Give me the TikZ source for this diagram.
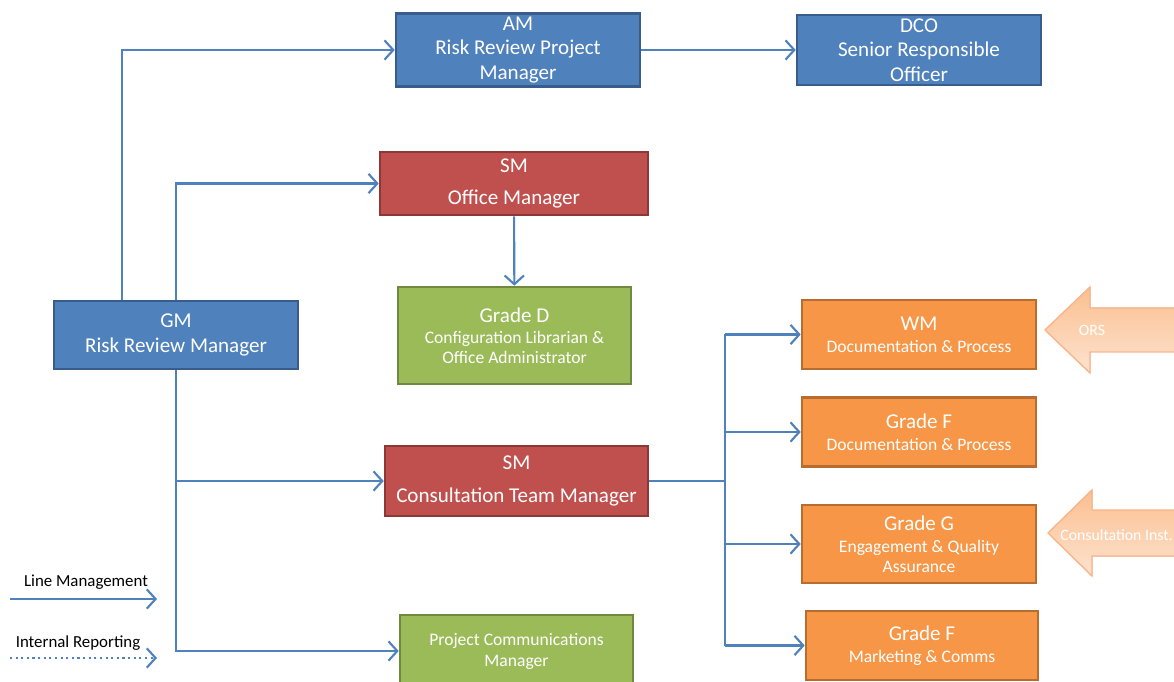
\documentclass[tikz,border=0pt]{standalone}
\usepackage{fontspec}
\setmainfont{Carlito}
\usepackage{tikz}
\usetikzlibrary{arrows.meta}
\definecolor{boxblue}{HTML}{4F81BD}
\definecolor{boxblueline}{HTML}{385D8A}
\definecolor{boxred}{HTML}{C0504D}
\definecolor{boxredline}{HTML}{8C3836}
\definecolor{boxgreen}{HTML}{9BBB59}
\definecolor{boxgreenline}{HTML}{71893F}
\definecolor{boxorange}{HTML}{F79646}
\definecolor{boxorangeline}{HTML}{B66D31}
\definecolor{linkblue}{HTML}{4F81BD}
\definecolor{inputtop}{HTML}{FBBF90}
\definecolor{inputbottom}{HTML}{FDE3CF}
\definecolor{inputline}{HTML}{F9B58A}
\newcommand\subtext{\fontsize{10}{12}\selectfont}

\begin{document}
\begin{tikzpicture}[x=0.02cm, y=-0.02cm, font=\fontsize{12}{14.5}\selectfont,
    box/.style={draw, rectangle, line width=1.5pt, text=white, align=center, inner sep=2pt},
    bluebox/.style={box, fill=boxblue, draw=boxblueline, minimum width=4.88cm, minimum height=1.4cm},
    redbox/.style={box, fill=boxred, draw=boxredline},
    greenbox/.style={box, fill=boxgreen, draw=boxgreenline},
    orangebox/.style={box, fill=boxorange, draw=boxorangeline, minimum width=4.68cm, minimum height=1.38cm},
    link/.style={-{Straight Barb[length=5pt,width=11pt]}, draw=linkblue, line width=1.2pt},
    input/.style={draw=inputline, line width=0.8pt, top color=inputtop, bottom color=inputbottom},
    inputtext/.style={text=white, font=\fontsize{9}{11}\selectfont, inner sep=0pt}]
    \useasboundingbox (0,0) rectangle (1174,682);
    \clip (0,0) rectangle (1174,682);

    % top row
    \node[bluebox] (am) at (518,50) {AM\\[-0.5pt]Risk Review Project\\[-0.5pt]Manager};
    \node[bluebox] (dco) at (919,50) {DCO\\[-0.5pt]Senior Responsible\\[-0.5pt]Officer};

    % middle column
    \node[redbox, minimum width=5.36cm, minimum height=1.26cm] (office) at (514,183.5) {SM\\[4pt]Office Manager};
    \node[greenbox, minimum width=4.66cm, minimum height=1.94cm] (gradeD) at (514.5,335.5) {Grade D\\[-2.5pt]{\subtext Configuration Librarian \&}\\[-3pt]{\subtext Office Administrator}};
    \node[redbox, minimum width=5.26cm, minimum height=1.4cm] (cons) at (516.5,481) {SM\\[4.5pt]Consultation Team Manager};
    \node[greenbox, font=\subtext, minimum width=4.66cm, minimum height=1.44cm] (comms) at (516.5,651) {Project Communications\\Manager};

    % left
    \node[bluebox, minimum height=1.36cm] (gm) at (176,335) {GM\\Risk Review Manager};

    % consultation team
    \node[orangebox] (wm) at (919,334.5) {WM\\[-2pt]\subtext Documentation \& Process};
    \node[orangebox] (gradeF) at (919,432) {Grade F\\[-2pt]\subtext Documentation \& Process};
    \node[orangebox, minimum height=1.56cm] (gradeG) at (919,544) {Grade G\\[-2pt]\subtext Engagement \& Quality\\[-3pt]\subtext Assurance};
    \node[orangebox, minimum width=4.64cm] (marketing) at (922,645.5) {Grade F\\[-2pt]\subtext Marketing \& Comms};

    % inputs from outside
    \filldraw[input] (1045,330) -- (1090,287) -- (1090,308) -- (1190,308) -- (1190,352) -- (1090,352) -- (1090,373) -- cycle;
    \node[inputtext] (ors) at (1092,330) {ORS};
    \filldraw[input] (1048,533) -- (1092,490) -- (1092,510) -- (1190,510) -- (1190,556) -- (1092,556) -- (1092,576) -- cycle;
    \node[inputtext, anchor=west] (inst) at (1060,535) {Consultation Inst.};

    % line management
    \draw[link] (gm.north) ++(-54,0) |- (am);
    \draw[link] (gm.north) |- (office);
    \draw[link] (am) -- (dco);
    \draw[link] (office) -- (gradeD);
    \draw[link] (gm.south) |- (comms.west);
    \draw[link] (gm.south |- cons.west) -- (cons.west);

    \coordinate (bus) at (725,481);
    \draw[draw=linkblue, line width=1.2pt] (cons.east) -- (bus);
    \draw[draw=linkblue, line width=1.2pt] (bus |- wm.west) -- (bus |- marketing.west);
    \foreach \n in {wm, gradeF, gradeG, marketing}
        \draw[link] (bus |- \n.west) -- (\n.west);

    % key
    \node[font=\fontsize{9.6}{11}\selectfont] (lmtext) at (86,582) {Line Management};
    \coordinate (lmstart) at (10,599);
    \coordinate (lmend) at (157,599);
    \draw[link] (lmstart) -- (lmend);
    \node[font=\fontsize{9.6}{11}\selectfont] (irtext) at (78,643) {Internal Reporting};
    \coordinate (irstart) at (10,658);
    \coordinate (irend) at (157,658);
    \draw[link, dotted] (irstart) -- (irend);
\end{tikzpicture}
\end{document}
